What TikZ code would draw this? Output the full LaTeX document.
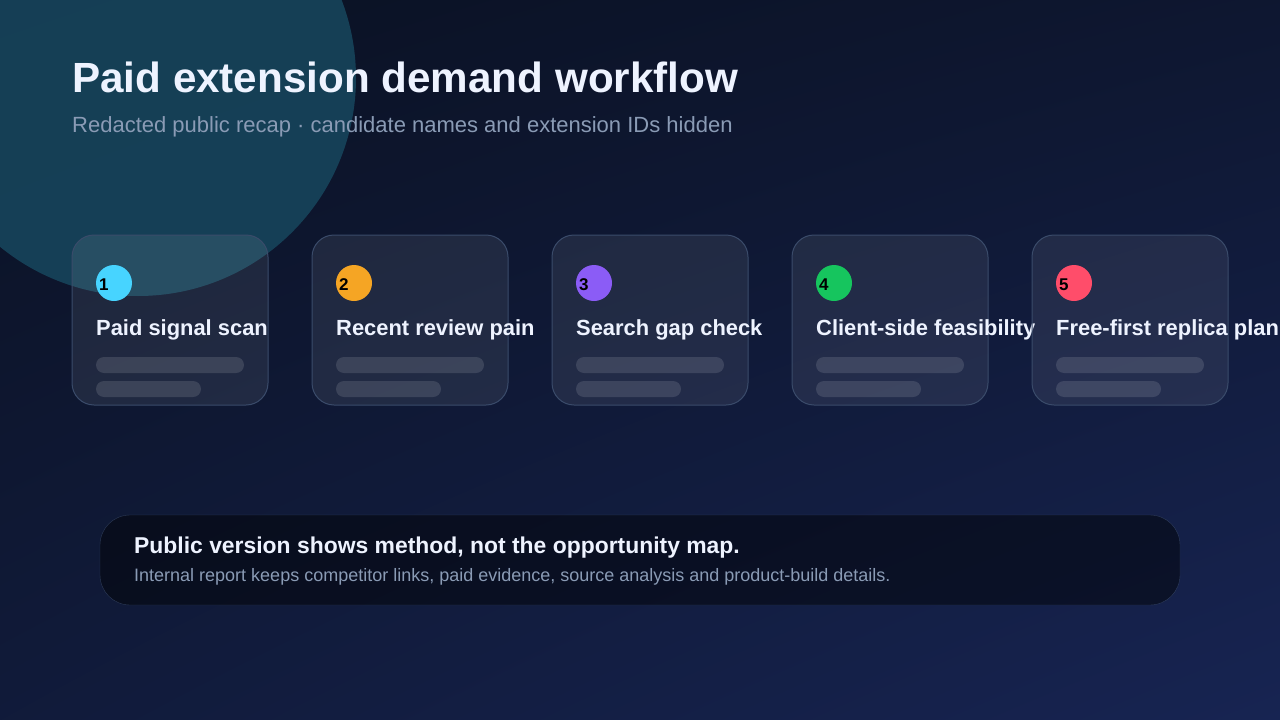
\documentclass[tikz,border=0pt]{standalone}
\usepackage{fontspec}
\setmainfont{Liberation Sans}
\usetikzlibrary{shadings}
\definecolor{bgA}{HTML}{0A1122}
\definecolor{bgB}{HTML}{172452}
\definecolor{titlec}{HTML}{EEF3FF}
\definecolor{subc}{HTML}{8A9BB5}
\definecolor{cardline}{HTML}{3A4B6A}
\definecolor{blob}{HTML}{17475E}
\begin{document}
\begin{tikzpicture}[x=1pt,y=-1pt,
  card/.style={draw=cardline,fill=white,fill opacity=0.08,draw opacity=1,line width=1pt,rounded corners=22pt},
  bar/.style={fill=white,fill opacity=0.12,rounded corners=8pt},
  num/.style={font=\bfseries\fontsize{17}{17}\selectfont,text=black,anchor=base west,inner sep=0},
  ttl/.style={font=\bfseries\fontsize{21.9}{22}\selectfont,text=titlec,anchor=base west,inner sep=0}]
\useasboundingbox (0,0) rectangle (1280,720);
\shade[upper left=bgA,upper right=bgA!70!bgB,lower left=bgA!50!bgB,lower right=bgB] (0,0) rectangle (1280,720);
\begin{scope}
\clip (0,0) rectangle (1280,720);
\fill[blob,opacity=0.85] (138,78) circle (218);
\end{scope}
\node[font=\bfseries\fontsize{42.2}{42}\selectfont,text=titlec,anchor=base west,inner sep=0] (t) at (72,92) {Paid extension demand workflow};
\node[font=\fontsize{22}{22}\selectfont,text=subc,anchor=base west,inner sep=0] (s) at (72,132) {Redacted public recap · candidate names and extension IDs hidden};
\foreach \i/\x/\c/\t in {1/72/47D4FF/Paid signal scan,2/312/F5A524/Recent review pain,3/552/8B5CF6/Search gap check,4/792/16C55E/Client-side feasibility,5/1032/FF4D6A/Free-first replica plan}{
  \definecolor{cc}{HTML}{\c}
  \draw[card] (\x,235) rectangle ++(196,170);
  \node[circle,fill=cc,minimum size=36pt,inner sep=0] (c\i) at (\x+42,283) {};
  \node[num] (n\i) at (\x+27,290) {\i};
  \node[ttl] (l\i) at (\x+24,335) {\t};
  \fill[bar] (\x+24,357) rectangle ++(148,16);
  \fill[bar] (\x+24,381) rectangle ++(105,16);
}
\draw[fill=black,fill opacity=0.45,draw=cardline,draw opacity=0.7,rounded corners=30pt] (100,515) rectangle (1180,605);
\node[font=\bfseries\fontsize{22.9}{23}\selectfont,text=titlec,anchor=base west,inner sep=0] (b1) at (134,553) {Public version shows method, not the opportunity map.};
\node[font=\fontsize{18}{18}\selectfont,text=subc,anchor=base west,inner sep=0] (b2) at (134,581) {Internal report keeps competitor links, paid evidence, source analysis and product-build details.};
\end{tikzpicture}
\end{document}
